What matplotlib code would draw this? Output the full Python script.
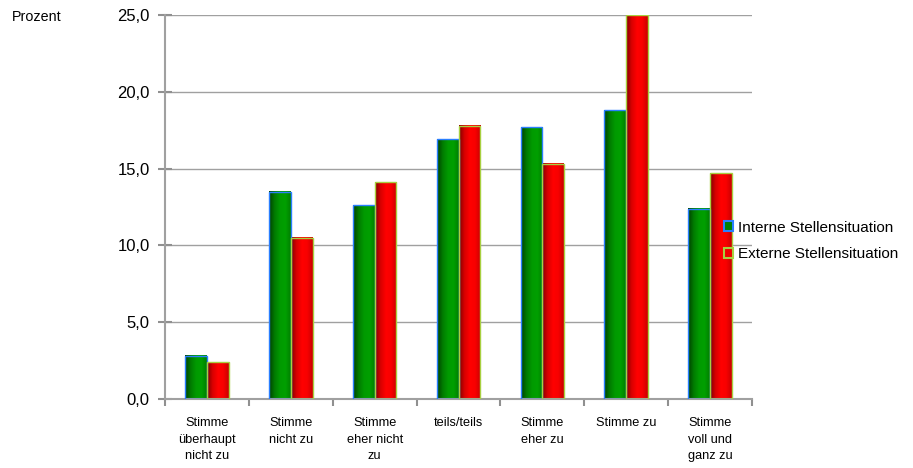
import numpy as np
import matplotlib.pyplot as plt
from matplotlib.colors import LinearSegmentedColormap
from matplotlib.patches import Patch

plt.rcParams['font.family'] = ['Liberation Sans', 'DejaVu Sans']

categories = ['Stimme\nüberhaupt\nnicht zu', 'Stimme\nnicht zu', 'Stimme\neher nicht\nzu',
              'teils/teils', 'Stimme\neher zu', 'Stimme zu', 'Stimme\nvoll und\nganz zu']
intern = [2.8, 13.5, 12.6, 16.9, 17.7, 18.8, 12.4]
extern = [2.4, 10.5, 14.1, 17.8, 15.3, 25.0, 14.7]
series_names = ['Interne Stellensituation', 'Externe Stellensituation']
yticks = [0, 5, 10, 15, 20, 25]

# cylinder-like shading across each bar
green_cmap = LinearSegmentedColormap.from_list(
    'g', ['#004000', '#007a00', '#009a00', '#00a000', '#008000'])
red_cmap = LinearSegmentedColormap.from_list(
    'r', ['#800000', '#d80000', '#ff0000', '#f80000', '#c80000'])
grad = np.linspace(0, 1, 64).reshape(1, -1)

fig = plt.figure(figsize=(9.13, 4.68), dpi=100)
ax = fig.add_axes([165 / 913, 1 - 399 / 468, (752 - 165) / 913, (399 - 15) / 468])

x = np.arange(len(categories))
w = 0.26
for vals, off, cmap, ec in [(intern, -w / 2, green_cmap, '#2a7fff'),
                            (extern, w / 2, red_cmap, '#a8d040')]:
    bars = ax.bar(x + off, vals, w, facecolor='none', edgecolor=ec, linewidth=1.0, zorder=3)
    for b in bars:
        x0, y0 = b.get_x(), b.get_y()
        ax.imshow(grad, extent=[x0, x0 + b.get_width(), y0, y0 + b.get_height()],
                  aspect='auto', cmap=cmap, zorder=2, interpolation='bilinear')

ax.set_xlim(-0.5, len(categories) - 0.5)
ax.set_ylim(0, 25)
ax.set_yticks(yticks)
ax.set_yticklabels(['{:.1f}'.format(v).replace('.', ',') for v in yticks], fontsize=12)
ax.yaxis.grid(True, color='#a0a0a0', linewidth=1)
ax.set_axisbelow(True)

ax.set_xticks(np.arange(len(categories) + 1) - 0.5)
ax.set_xticklabels([])
ax.set_xticks(x, minor=True)
ax.set_xticklabels(categories, minor=True, fontsize=9.2, va='top', linespacing=1.5)
ax.tick_params(axis='x', which='minor', length=0, pad=13)
ax.tick_params(axis='x', which='major', length=5, color='#909090', width=1.5)
ax.tick_params(axis='y', length=10, direction='inout', color='#909090', width=1.5, pad=6)

for s in ['top', 'right']:
    ax.spines[s].set_visible(False)
for s in ['left', 'bottom']:
    ax.spines[s].set_color('#a0a0a0')
    ax.spines[s].set_linewidth(1.5)

fig.text(12 / 913, 1 - 17 / 468, 'Prozent', fontsize=10.3, va='center')

handles = [Patch(facecolor='#008000', edgecolor='#2a7fff', linewidth=1.5),
           Patch(facecolor='#f00000', edgecolor='#a8d040', linewidth=1.5)]
fig.legend(handles, series_names, loc='center left', bbox_to_anchor=(710 / 913, 1 - 241 / 468),
           frameon=False, fontsize=11, handlelength=0.6, handleheight=0.6,
           handletextpad=0.35, labelspacing=0.85)

fig.savefig('out.png', dpi=100)
